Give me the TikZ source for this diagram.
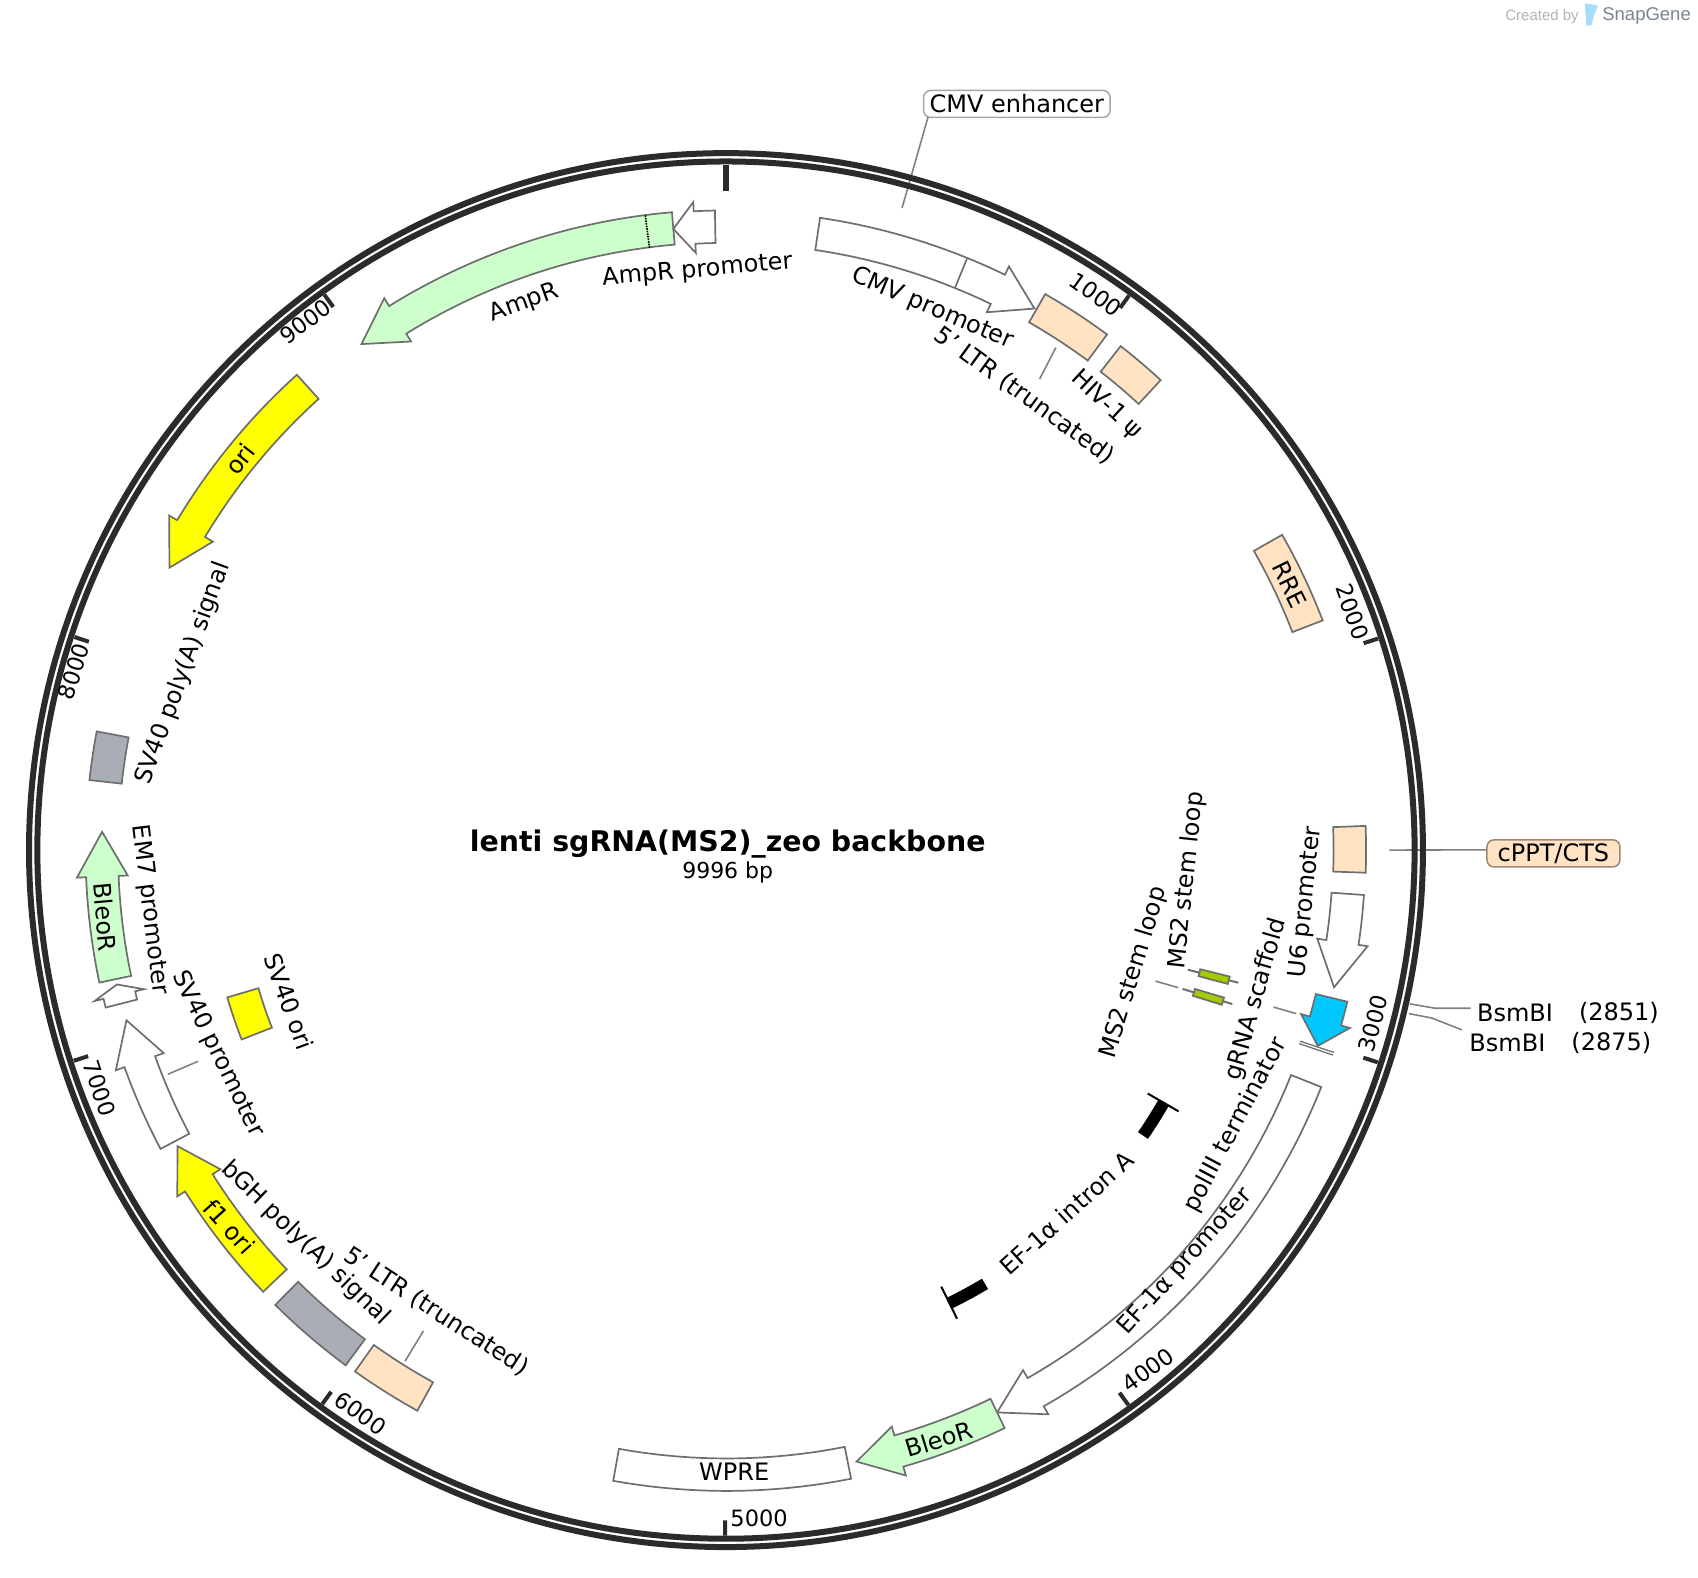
\documentclass[tikz,border=0pt]{standalone}
\usepackage{fontspec}
\setmainfont{DejaVu Sans}
\newfontfamily\logofont{Liberation Sans}
\usepackage{xcolor}
\definecolor{ringcol}{HTML}{2B2B2B}
\definecolor{edgecol}{HTML}{6E6E6E}
\definecolor{leadcol}{HTML}{808080}
\definecolor{ampgreen}{HTML}{CCFFCC}
\definecolor{orifill}{HTML}{FFFF00}
\definecolor{ltrfill}{HTML}{FFE3C3}
\definecolor{polyafill}{HTML}{A9AEB6}
\definecolor{scafblue}{HTML}{00C8FF}
\definecolor{stemgreen}{HTML}{A0CC00}
\definecolor{logoblue}{HTML}{A6DDFB}
\definecolor{logotext}{HTML}{7A8490}
\tikzset{
  ringmap/.style={shift={(670.4,785)}},
  onmap/.style={shift={(671,785.3)}},
  feat/.style={draw=edgecol,line width=1.7pt,line join=miter,fill=white,onmap},
  leader/.style={draw=leadcol,line width=1.6pt},
  lbl/.style={font=\fontsize{24}{27}\selectfont,inner sep=0pt,text=black},
  ticklbl/.style={lbl,font=\fontsize{22.5}{25}\selectfont},
  tag/.style={lbl,draw=#1,rounded corners=7pt,line width=1.5pt,minimum height=27pt,inner xsep=6pt}
}
% box: style, from, to (degrees clockwise from the top), radius
\newcommand{\FeatBox}[4]{
  \draw[feat,#1] plot[domain=#2:#3,samples=20] ({\x-90}:{#4+15})
    -- plot[domain=#3:#2,samples=20] ({\x-90}:{#4-15}) -- cycle;
}
% arrow: style, tail, head base, tip, radius
\newcommand{\FeatArrow}[5]{
  \draw[feat,#1] plot[domain=#2:#3,samples=30] ({\x-90}:{#5+15})
    -- ({#3-90}:{#5+23.5}) -- ({#4-90}:{#5}) -- ({#3-90}:{#5-23.5})
    -- plot[domain=#3:#2,samples=30] ({\x-90}:{#5-15}) -- cycle;
}

\begin{document}
\begin{tikzpicture}[x=1.083pt,y=-1.083pt]
  \useasboundingbox (0,0) rectangle (1568,1457);

  \coordinate (enhstart) at (857,108);
  \coordinate (enhend) at (833,192);
  \coordinate (ltrastart) at (975,321);
  \coordinate (ltraend) at (960,350);
  \coordinate (ltrbstart) at (391,1229);
  \coordinate (ltrbend) at (374,1257);
  \coordinate (cpptstart) at (1283,785);
  \coordinate (stemstart) at (1067,906);
  \coordinate (stemend) at (1088,912);
  \coordinate (scafstart) at (1176,930);
  \coordinate (scafend) at (1197,936);
  \coordinate (svstart) at (155,992);
  \coordinate (svend) at (183,980);
  \coordinate (bsmastart) at (1302,927);
  \coordinate (bsmamid) at (1325,931);
  \coordinate (bsmaend) at (1358,931);
  \coordinate (bsmbstart) at (1301,936);
  \coordinate (bsmbmid) at (1322,940);
  \coordinate (bsmbend) at (1350,951);

  \node[tag=gray!70,fill=white] (cmvenh) at (939,96) {CMV enhancer};
  \node[tag=ltrfill!60!black,fill=ltrfill,minimum width=133pt] (cppt) at (1434.5,788) {cPPT/CTS};

  \draw[leader] (enhstart) -- (enhend);
  \draw[leader] (ltrastart) -- (ltraend);
  \draw[leader] (ltrbstart) -- (ltrbend);
  \draw[leader] (cpptstart) -- (cppt.177);
  \draw[leader] (stemstart) -- (stemend);
  \draw[leader] (scafstart) -- (scafend);
  \draw[leader] (svstart) -- (svend);
  \draw[leader] (bsmastart) -- (bsmamid) -- (bsmaend);
  \draw[leader] (bsmbstart) -- (bsmbmid) -- (bsmbend);

  \FeatArrow{}{8.4}{25.8}{29.6}{575.5}
  \draw[feat] (22.1-90:560) -- (22.1-90:591);
  \FeatBox{fill=ltrfill}{29.8}{36.4}{577}
  \FeatBox{fill=ltrfill}{38}{42.7}{576}
  \FeatBox{fill=ltrfill}{60.4}{68.9}{575}
  \FeatBox{fill=ltrfill}{87.8}{92}{575.5}
  \FeatArrow{}{94}{98.5}{102.7}{575}
  \draw[feat,line width=1.3pt] (108.4-90:558) -- (108.4-90:591);
  \draw[feat,line width=1.3pt] (108.65-90:558) -- (108.65-90:591);
  \FeatArrow{fill=scafblue}{103.7}{105.9}{108.3}{575}
  \FeatArrow{}{111.7}{150.3}{154.3}{576}
  \FeatArrow{fill=ampgreen}{154.3}{164}{168}{577}
  \FeatBox{}{168.8}{190.2}{576.5}
  \FeatBox{fill=ltrfill}{208.9}{215.5}{576}
  \FeatBox{fill=polyafill}{216.5}{224.8}{576.5}
  \FeatArrow{fill=orifill}{226.4}{237.8}{241.7}{576}
  \FeatArrow{}{242.2}{250.2}{254.2}{576}
  \FeatArrow{}{255.8}{256.6}{257.6}{576.5}
  \FeatArrow{fill=ampgreen}{258.1}{267.6}{271.7}{577}
  \FeatBox{fill=polyafill}{276.3}{280.7}{577}
  \FeatArrow{fill=orifill}{317.9}{301}{296.9}{577}
  \FeatArrow{fill=ampgreen}{355.1}{328.2}{324.2}{576.5}
  \draw[onmap,line width=1.6pt,densely dotted] (352.7-90:561) -- (352.7-90:592);
  \FeatArrow{}{358.95}{357.05}{355.1}{576}
  \FeatBox{fill=orifill}{248.7}{253.6}{465.7}

  % stem loops
  \foreach \t in {104.5,106.9}{
    \draw[feat,line width=2pt] (\t-90:440) -- (\t-90:488);
    \draw[feat,fill=stemgreen] (\t-90.42:451) -- (\t-90.42:479) -- (\t-89.58:479) -- (\t-89.58:451) -- cycle;
  }

  % intron ends
  \draw[onmap,line width=12pt] plot[domain=120:124.4,samples=8] ({\x-90}:466);
  \draw[onmap,line width=12pt] plot[domain=149.2:153.8,samples=8] ({\x-90}:466);
  \draw[onmap,line width=2pt] (120-90:449) -- (120-90:482);
  \draw[onmap,line width=2pt] (153.8-90:449) -- (153.8-90:482);

  % ring and ticks
  \draw[ringcol,ringmap,line width=6pt] (0,0) circle[radius=643.6];
  \draw[ringcol,ringmap,line width=6pt] (0,0) circle[radius=635.9];
  \draw[ringcol,ringmap,line width=6pt] (-90:609) -- (-90:633);
  \foreach \bp in {1000,2000,...,9000}{
    \draw[ringcol,ringmap,line width=4pt] ({\bp/9996*360-90}:619) -- ({\bp/9996*360-90}:633);
  }

  \foreach \v/\px/\py/\rot in {1000/1012/272/-36,2000/1249/565/-70,3000/1268/945/75,
      4000/1060/1265/36,5000/701/1402/0,6000/333/1305/-36,7000/92/1005/-72,8000/68/620/72,9000/282/297/36}{
    \node[ticklbl] (tick\v) at (\px,\py) [rotate=\rot] {\v};
  }

  \node[lbl,font=\fontsize{28.4}{32}\selectfont\bfseries] (title) at (672,779) {lenti sgRNA(MS2)\_zeo backbone};
  \node[lbl,font=\fontsize{22}{25}\selectfont] (size) at (672,806) {9996 bp};

  \node[lbl,rotate=-23] (cmvprom) at (861,285) {CMV promoter};
  \node[lbl,rotate=-36] (ltra) at (946,365) {5' LTR (truncated)};
  \node[lbl,rotate=-43] (hiv) at (1022,374) {HIV-1 ψ};
  \node[lbl,rotate=-64] (rre) at (1191,540) {RRE};
  \node[lbl,rotate=84] (uprom) at (1206,833) {U6 promoter};
  \node[lbl,rotate=84] (stema) at (1096,813) {MS2 stem loop};
  \node[lbl,rotate=73] (stemb) at (1047,898) {MS2 stem loop};
  \node[lbl,rotate=74] (scaf) at (1160,923) {gRNA scaffold};
  \node[lbl,rotate=62] (pol) at (1141,1039) {polIII terminator};
  \node[lbl,rotate=48] (efprom) at (1095,1165) {EF-1α promoter};
  \node[lbl,rotate=42] (intron) at (985,1120) {EF-1α intron A};
  \node[lbl,rotate=17] (bleoa) at (867,1329) {BleoR};
  \node[lbl] (wpre) at (678,1359) {WPRE};
  \node[lbl,rotate=-33] (ltrb) at (403,1211) {5' LTR (truncated)};
  \node[lbl,rotate=-44] (bgh) at (282,1148) {bGH poly(A) signal};
  \node[lbl,rotate=-48] (fori) at (212,1133) {f1 ori};
  \node[lbl,rotate=-64] (svprom) at (201,973) {SV40 promoter};
  \node[lbl,rotate=-70] (svori) at (267,925) {SV40 ori};
  \node[lbl,rotate=-83] (emprom) at (138,840) {EM7 promoter};
  \node[lbl,rotate=-85] (bleob) at (97,847) {BleoR};
  \node[lbl,rotate=70] (svpa) at (169,622) {SV40 poly(A) signal};
  \node[lbl,rotate=52] (ori) at (222,424) {ori};
  \node[lbl,rotate=20] (amp) at (484,280) {AmpR};
  \node[lbl,rotate=5] (ampprom) at (644,250) {AmpR promoter};

  \node[lbl] (bsma) at (1399,935) {BsmBI};
  \node[lbl] (bsmapos) at (1495,935) {(2851)};
  \node[lbl] (bsmb) at (1392,963) {BsmBI};
  \node[lbl] (bsmbpos) at (1488,963) {(2875)};

  \node[lbl,font=\logofont\fontsize{15}{18}\selectfont,text=gray!60] (created) at (1424,15) {Created by};
  \node[lbl,font=\logofont\fontsize{18.5}{22}\selectfont,text=logotext] (snap) at (1520.5,15) {SnapGene};
  \fill[logoblue] (1463.5,3) -- (1475.5,5) -- (1471,17) -- (1470,23) -- (1465,24) -- cycle;
\end{tikzpicture}
\end{document}
